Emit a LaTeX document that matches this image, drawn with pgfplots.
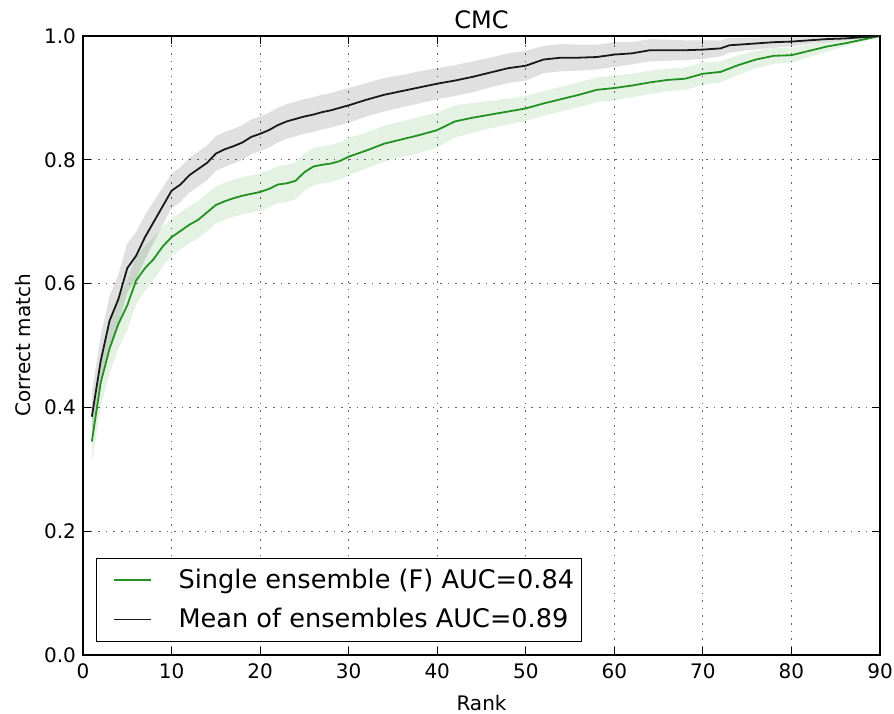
\documentclass[border=0pt]{standalone}
\usepackage{pgfplots}
\usepackage{pgfplotstable}
\pgfplotsset{compat=1.18}
\usepgfplotslibrary{fillbetween}
\usepackage{fontspec}
\setmainfont{DejaVu Sans}
\definecolor{mgreen}{RGB}{34,145,34}
\definecolor{mblack}{RGB}{25,25,25}

\pgfplotstableread{
x m w
1 0.385 0.040
2 0.475 0.040
3 0.540 0.040
4 0.575 0.040
5 0.625 0.040
6 0.645 0.038
7 0.675 0.036
8 0.700 0.033
9 0.725 0.030
10 0.750 0.028
11 0.760 0.028
12 0.775 0.028
13 0.785 0.028
14 0.795 0.028
15 0.810 0.028
16 0.817 0.028
17 0.822 0.028
18 0.828 0.028
19 0.837 0.028
20 0.842 0.028
21 0.848 0.028
22 0.856 0.028
23 0.862 0.028
24 0.866 0.028
25 0.870 0.028
26 0.873 0.028
27 0.877 0.028
28 0.880 0.028
29 0.884 0.028
30 0.888 0.028
32 0.897 0.027
34 0.905 0.027
36 0.911 0.026
38 0.917 0.026
40 0.923 0.025
42 0.928 0.025
44 0.934 0.025
46 0.941 0.024
48 0.948 0.024
50 0.952 0.024
52 0.962 0.022
54 0.965 0.022
56 0.965 0.021
58 0.966 0.020
60 0.970 0.020
62 0.972 0.018
64 0.977 0.018
66 0.977 0.017
68 0.977 0.016
70 0.978 0.015
72 0.980 0.013
73 0.985 0.012
75 0.987 0.010
78 0.990 0.009
80 0.991 0.008
82 0.993 0.006
84 0.995 0.005
86 0.996 0.003
88 0.998 0.002
90 1.000 0.000
}\blk

\pgfplotstableread{
x m w
1 0.345 0.035
2 0.440 0.040
3 0.495 0.040
4 0.535 0.040
5 0.565 0.040
6 0.605 0.038
7 0.625 0.036
8 0.640 0.034
9 0.660 0.032
10 0.675 0.030
11 0.685 0.030
12 0.695 0.030
13 0.703 0.030
14 0.715 0.030
15 0.727 0.030
16 0.733 0.030
17 0.738 0.030
18 0.742 0.030
19 0.745 0.030
20 0.748 0.030
21 0.753 0.030
22 0.760 0.030
23 0.762 0.030
24 0.766 0.030
25 0.780 0.030
26 0.789 0.030
27 0.792 0.030
28 0.794 0.030
29 0.798 0.030
30 0.805 0.030
32 0.815 0.029
34 0.826 0.029
36 0.833 0.029
38 0.840 0.029
40 0.848 0.028
42 0.862 0.026
44 0.868 0.024
46 0.873 0.022
48 0.878 0.021
50 0.883 0.020
52 0.891 0.020
54 0.898 0.020
56 0.905 0.020
58 0.913 0.020
60 0.916 0.020
62 0.920 0.019
64 0.925 0.019
66 0.929 0.018
68 0.931 0.018
70 0.939 0.018
72 0.942 0.017
74 0.953 0.016
76 0.962 0.014
78 0.968 0.013
80 0.969 0.012
82 0.976 0.010
84 0.983 0.008
86 0.988 0.005
88 0.994 0.003
90 1.000 0.000
}\grn

\begin{document}
\begin{tikzpicture}
\begin{axis}[name=ax,
  scale only axis, width=398.5pt, height=309.5pt,
  xmin=0, xmax=90, ymin=0, ymax=1,
  xtick={0,10,20,30,40,50,60,70,80,90},
  ytick={0,0.2,0.4,0.6,0.8,1},
  yticklabel style={/pgf/number format/.cd, fixed, fixed zerofill, precision=1},
  /pgf/number format/assume math mode=true,
  tick align=inside, xtick pos=both, ytick pos=both,
  major tick length=4pt,
  tick style={black, line width=0.6pt},
  axis line style={black, line width=0.8pt},
  grid=major, major grid style={black!60, dash pattern=on 0.8pt off 3pt, line width=0.6pt},
  ticklabel style={font=\fontsize{10}{11}\selectfont},
  xticklabel style={yshift=-1pt},
  label style={font=\fontsize{10}{11}\selectfont},
  xlabel style={at={(axis description cs:0.5,0)}, anchor=base, yshift=-27.5pt},
  ylabel style={at={(axis description cs:-0.0665,0.5)}, anchor=base},
  title style={font=\fontsize{12}{13}\selectfont, at={(axis description cs:0.5,1)}, anchor=base, yshift=-2.3pt},
  title={CMC}, xlabel={Rank}, ylabel={Correct match},
  legend style={at={(0,0)}, anchor=south west, xshift=6.5pt, yshift=6.5pt,
    font=\fontsize{12.8}{14}\selectfont, draw=black, line width=0.6pt,
    inner xsep=3.5pt, inner ysep=1pt,
    nodes={inner xsep=0pt, inner ysep=4.3pt}},
  legend cell align=left,
  legend image code/.code={\path[draw=none] (0pt,0pt) -- (37.5pt,0pt); \draw[#1] (5pt,0pt) -- (23.5pt,0pt);},
]
\addplot[name path=gu, draw=none, forget plot] table[x=x, y expr=\thisrow{m}+\thisrow{w}] {\grn};
\addplot[name path=gl, draw=none, forget plot] table[x=x, y expr=\thisrow{m}-\thisrow{w}] {\grn};
\addplot[fill=mgreen, fill opacity=0.12, draw=none, forget plot] fill between[of=gu and gl];
\addplot[name path=bu, draw=none, forget plot] table[x=x, y expr=\thisrow{m}+\thisrow{w}] {\blk};
\addplot[name path=bl, draw=none, forget plot] table[x=x, y expr=\thisrow{m}-\thisrow{w}] {\blk};
\addplot[fill=black, fill opacity=0.12, draw=none, forget plot] fill between[of=bu and bl];
\addplot[mgreen, line width=0.9pt] table[x=x, y=m] {\grn};
\addlegendentry{Single ensemble (F) AUC=0.84}
\addplot[mblack, line width=0.9pt] table[x=x, y=m] {\blk};
\addlegendentry{Mean of ensembles AUC=0.89}
\end{axis}
\pgfresetboundingbox
\path[use as bounding box] ([shift={(-41.5pt,-29pt)}]ax.south west) rectangle ([shift={(7pt,18pt)}]ax.north east);
\end{tikzpicture}
\end{document}
